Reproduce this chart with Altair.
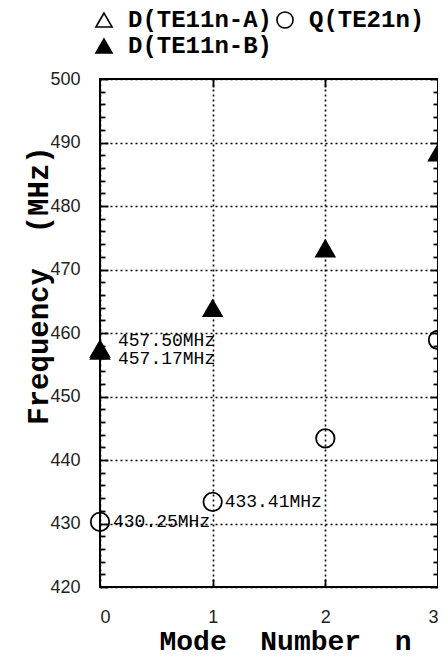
import altair as alt
import pandas as pd

# ---- data ----
mode_n = [0, 1, 2, 3]
freq_B = [457.17, 463.9, 473.3, 488.4]      # D(TE11n-B), filled triangles
freq_Q = [430.25, 433.41, 443.4, 458.9]     # Q(TE21n), open circles
mode_A = [0]
freq_A = [457.50]                           # D(TE11n-A), open triangle

series_names = ["D(TE11n-A)", "Q(TE21n)", "D(TE11n-B)"]
y_ticks = list(range(420, 501, 10))
y_minor = list(range(420, 501, 2))
x_ticks = [0, 1, 2, 3]

ann_text = ["457.50MHz", "457.17MHz", "433.41MHz", "430.25MHz"]
ann_n = [0, 0, 1, 0]
ann_f = [457.50, 457.17, 433.41, 430.25]

NB = "\u00a0"
x_title = "Mode" + NB * 2 + "Number" + NB * 2 + "n"
y_title = "Frequency" + NB * 2 + "(MHz)"

rows = []
for n, f in zip(mode_A, freq_A):
    rows.append({"n": n, "f": f, "s": series_names[0]})
for n, f in zip(mode_n, freq_Q):
    rows.append({"n": n, "f": f, "s": series_names[1]})
for n, f in zip(mode_n, freq_B):
    rows.append({"n": n, "f": f, "s": series_names[2]})
df = pd.DataFrame(rows)

W, H = 338, 508
xs = alt.Scale(domain=[0, 3], nice=False, zero=False)
ys = alt.Scale(domain=[420, 500], nice=False, zero=False)

TITLE_FONT = "Liberation Mono"
LABEL_FONT = "Liberation Sans"

leg = alt.Legend(title=None, orient="none", legendX=-8, legendY=-71,
                 columns=2, direction="horizontal",
                 labelFont=TITLE_FONT, labelFontSize=24,
                 labelFontWeight="bold", labelColor="black",
                 symbolSize=260, symbolStrokeWidth=1.6,
                 labelOffset=12, columnPadding=-2, rowPadding=2, padding=0)

points = alt.Chart(df).mark_point(strokeWidth=1.8, opacity=1).encode(
    x=alt.X("n:Q", scale=xs, axis=alt.Axis(
        orient="bottom", values=x_ticks, format="d", ticks=False, domain=False,
        grid=True, gridColor="black", gridDash=[2, 3], gridWidth=1.6,
        labelFont=LABEL_FONT, labelFontSize=18, labelColor="#222", labelPadding=21,
        title=x_title, titleFont=TITLE_FONT, titleFontSize=28,
        titleFontWeight="bold", titleColor="black", titleX=185, titleY=62,
        titleBaseline="alphabetic", titleAnchor="middle")),
    y=alt.Y("f:Q", scale=ys, axis=alt.Axis(
        orient="left", values=y_ticks, ticks=False, domain=False,
        grid=True, gridColor="black", gridDash=[2, 3], gridWidth=1.6,
        labelFont=LABEL_FONT, labelFontSize=18, labelColor="#222", labelPadding=20,
        title=y_title, titleFont=TITLE_FONT, titleFontSize=29,
        titleFontWeight="bold", titleColor="black", titleX=-62, titleY=206,
        titleAngle=270, titleBaseline="middle", titleAlign="center")),
    shape=alt.Shape("s:N", scale=alt.Scale(domain=series_names,
                    range=["triangle-up", "circle", "triangle-up"]), legend=leg),
    fill=alt.Fill("s:N", scale=alt.Scale(domain=series_names,
                  range=["transparent", "transparent", "black"]), legend=leg),
    stroke=alt.Stroke("s:N", scale=alt.Scale(domain=series_names,
                      range=["black", "black", "black"]), legend=leg),
    size=alt.value(340),
)

tick_common = dict(labels=False, domain=False, grid=False, title=None,
                   tickColor="black", tickWidth=1.8)

ticks_a = alt.Chart(df).mark_point(opacity=0).encode(
    x=alt.X("n:Q", scale=xs, axis=alt.Axis(orient="top", offset=-H, values=[1, 2],
                                           tickSize=8, **tick_common)),
    y=alt.Y("f:Q", scale=ys, axis=alt.Axis(orient="right", offset=-W, values=y_minor,
            tickSize={"condition": {"test": "datum.value % 10 === 0", "value": 8}, "value": 5},
            **tick_common)),
)
ticks_b = alt.Chart(df).mark_point(opacity=0).encode(
    x=alt.X("n:Q", scale=xs, axis=alt.Axis(orient="bottom", offset=-H, values=[1, 2],
                                           tickSize=8, **tick_common)),
    y=alt.Y("f:Q", scale=ys, axis=alt.Axis(orient="left", offset=-W, values=y_minor,
            tickSize={"condition": {"test": "datum.value % 10 === 0", "value": 8}, "value": 5},
            **tick_common)),
)

ann_df = pd.DataFrame({"t": ann_text, "n": ann_n, "f": ann_f})
ann_offsets = [(18, -8), (18, 8), (12, 0), (13, 0)]
texts = []
for i, (dx, dy) in enumerate(ann_offsets):
    texts.append(
        alt.Chart(ann_df.iloc[[i]]).mark_text(
            align="left", baseline="middle", font=TITLE_FONT, fontSize=18,
            color="black", dx=dx, dy=dy
        ).encode(
            x=alt.X("n:Q", scale=xs, axis=None),
            y=alt.Y("f:Q", scale=ys, axis=None),
            text="t:N",
        )
    )

chart = alt.layer(points, ticks_a, ticks_b, *texts).resolve_axis(
    x="independent", y="independent"
).properties(
    width=W, height=H,
    autosize=alt.AutoSizeParams(type="none"),
    padding={"left": 92, "top": 71, "right": 0, "bottom": 63},
).configure_view(
    stroke="black", strokeWidth=2
)

chart.save("out.html", embed_options={"renderer": "svg", "actions": False})
